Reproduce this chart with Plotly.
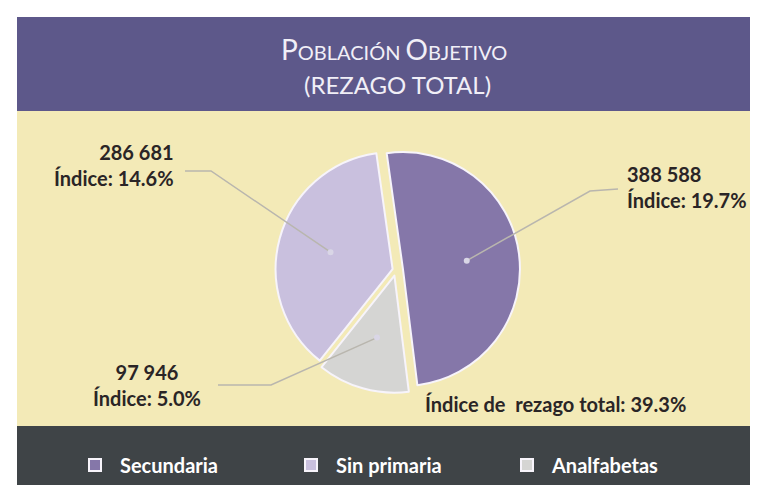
import math
import plotly.graph_objects as go

# ---- data ----
categories = ["Secundaria", "Sin primaria", "Analfabetas"]
values = [388588, 286681, 97946]
indices = ["19.7%", "14.6%", "5.0%"]
total_index = "39.3%"
title_line1 = ("P", "OBLACIÓN ", "O", "BJETIVO")
title_line2 = "(REZAGO TOTAL)"

# ---- style ----
W, H = 758, 485
colors = ["#8577a9", "#c9c0de", "#d5d5d3"]
pulls = [0.06, 0.03, 0.05]
rotation = -8
band_purple = "#5d588a"
cream = "#f3eab7"
dark = "#3f4447"
txt = "#2a2526"
FONT = "Lato"

cx, cy, R = 388, 262, 117   # pie center / radius in pixels


def px(x):
    return x / W


def py(y):
    return 1 - y / H


half = R * (1 + max(pulls))

fig = go.Figure()
fig.add_trace(go.Pie(
    labels=categories, values=values, sort=False, direction="counterclockwise",
    rotation=rotation, pull=pulls, textinfo="none", hoverinfo="label+value",
    marker=dict(colors=colors, line=dict(color="#f7f4fb", width=2)),
    domain=dict(x=[px(cx - half), px(cx + half)], y=[py(cy + half), py(cy - half)]),
    showlegend=True,
))

# pointer positions derived from the slice angles (plotly counterclockwise layout:
# first slice clockwise from rotation, following slices counterclockwise from rotation)
total = sum(values)
angles = [v / total * 360 for v in values]
mids = [rotation + angles[0] / 2]
back = 0
for a in angles[1:]:
    mids.append(rotation - back - a / 2)
    back += a
tips = []
for m, p in zip(mids, pulls):
    r = math.radians(m)
    d = (p + 0.55) * R
    tips.append((cx + d * math.sin(r), cy - d * math.cos(r)))

shapes = [
    dict(type="rect", xref="paper", yref="paper", x0=px(9), x1=1, y0=py(103), y1=py(9),
         fillcolor=band_purple, line_width=0, layer="below"),
    dict(type="rect", xref="paper", yref="paper", x0=px(9), x1=1, y0=py(418), y1=py(103),
         fillcolor=cream, line_width=0, layer="below"),
    dict(type="rect", xref="paper", yref="paper", x0=px(9), x1=1, y0=0, y1=py(418),
         fillcolor=dark, line_width=0, layer="below"),
]

elbows = {
    0: [(610, 181), (582, 183)],
    1: [(177, 163), (203, 163)],
    2: [(210, 377), (263, 377)],
}
for i, pts in elbows.items():
    allp = pts + [tips[i]]
    path = "M " + " L ".join(f"{px(a)},{py(b)}" for a, b in allp)
    shapes.append(dict(type="path", xref="paper", yref="paper", path=path,
                       line=dict(color="#b9b6ae", width=1.5)))
    tx, ty = tips[i]
    shapes.append(dict(type="circle", xref="paper", yref="paper",
                       x0=px(tx - 3), x1=px(tx + 3), y0=py(ty + 3), y1=py(ty - 3),
                       fillcolor="#d9d6e6", line_width=0))


def fmt(v):
    return f"{v:,}".replace(",", " ")


ann = []
lab_font = dict(family=FONT, size=20, color=txt)
ann.append(dict(x=px(617), y=py(179), xref="paper", yref="paper", xanchor="left", yanchor="middle",
                align="left", showarrow=False, font=lab_font,
                text=f"<b>{fmt(values[0])}<br>Índice: {indices[0]}</b>"))
ann.append(dict(x=px(168), y=py(157), xref="paper", yref="paper", xanchor="right", yanchor="middle",
                align="right", showarrow=False, font=lab_font,
                text=f"<b>{fmt(values[1])}<br>Índice: {indices[1]}</b>"))
ann.append(dict(x=px(139), y=py(377), xref="paper", yref="paper", xanchor="center", yanchor="middle",
                align="center", showarrow=False, font=lab_font,
                text=f"<b>{fmt(values[2])}<br>Índice: {indices[2]}</b>"))
ann.append(dict(x=px(415), y=py(396), xref="paper", yref="paper", xanchor="left", yanchor="middle",
                showarrow=False, font=lab_font,
                text=f"<b>Índice de\u00a0 rezago total: {total_index}</b>"))

tf = "#f1eff7"
ann.append(dict(x=px(386), y=py(41), xref="paper", yref="paper", xanchor="center", yanchor="middle",
                showarrow=False, font=dict(family=FONT, size=28, color=tf),
                text=(f"{title_line1[0]}<span style='font-size:20px'>{title_line1[1]}</span>"
                      f"{title_line1[2]}<span style='font-size:20px'>{title_line1[3]}</span>")))
ann.append(dict(x=px(389), y=py(76), xref="paper", yref="paper", xanchor="center", yanchor="middle",
                showarrow=False, font=dict(family=FONT, size=24, color=tf), text=title_line2))

fig.update_layout(
    width=W, height=H, margin=dict(l=0, r=0, t=0, b=0),
    paper_bgcolor="white", plot_bgcolor="white",
    shapes=shapes, annotations=ann,
    legend=dict(orientation="h", x=px(62), y=py(457), xanchor="left", yanchor="middle",
                font=dict(family=FONT, size=20, color="white", weight="bold"),
                bgcolor="rgba(0,0,0,0)", entrywidth=161, entrywidthmode="pixels",
                itemwidth=40),
)

fig.write_html("out.html")
